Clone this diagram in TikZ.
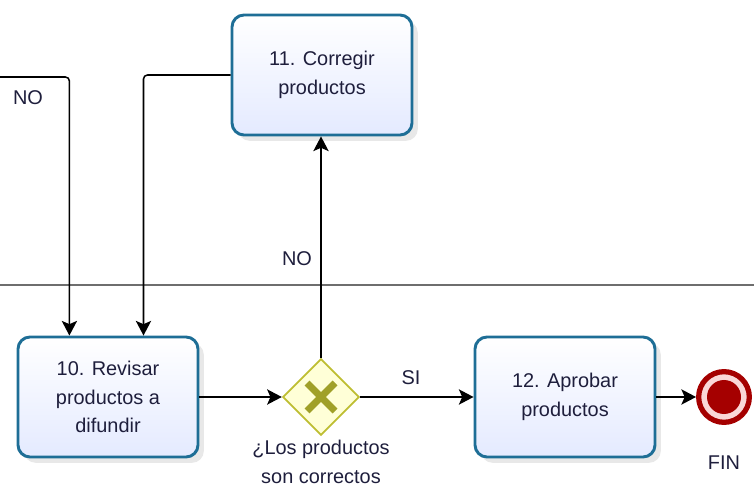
\documentclass[tikz,border=0pt]{standalone}
\usepackage{fontspec}
\setmainfont{Liberation Sans}
\usetikzlibrary{arrows.meta, calc, positioning, shapes.geometric, shadows}
\definecolor{mytaskborder}{RGB}{30, 110, 150}
\definecolor{mytaskfill}{RGB}{228, 234, 255}
\definecolor{mygatefill}{RGB}{255, 255, 215}
\definecolor{mygateborder}{RGB}{190, 190, 50}
\definecolor{mygatemark}{RGB}{160, 160, 40}
\definecolor{myendred}{RGB}{165, 0, 0}
\definecolor{myendring}{RGB}{250, 215, 215}
\definecolor{mytext}{RGB}{30, 30, 60}
\definecolor{mylane}{RGB}{110, 110, 110}

\begin{document}
\begin{tikzpicture}[x=0.03cm, y=-0.03cm, font=\fontsize{17}{24.5}\selectfont, text=mytext,
  task/.style={draw=mytaskborder, line width=2.5pt, rounded corners=0.36cm, minimum width=5.4cm,
    minimum height=3.6cm, align=center, top color=white, bottom color=mytaskfill,
    drop shadow={opacity=0.18, shadow xshift=5pt, shadow yshift=-5pt}},
  gate/.style={diamond, draw=mygateborder, line width=1.5pt, fill=mygatefill, minimum width=2.3cm,
    minimum height=2.3cm, inner sep=0pt},
  flow/.style={draw=black, line width=1.3pt, -{Stealth[length=0.44cm, width=0.46cm, inset=0.1cm]}}]
  \useasboundingbox (0,0) rectangle (754,487);
  % Lane
  \coordinate (laneL) at (0,285);
  \coordinate (laneR) at (754,285);
  \draw[mylane, line width=1.5pt] (laneL) -- (laneR);
  % Tasks
  \node[task] (corr) at (322,75) {11. Corregir\\productos};
  \node[task] (rev) at (108,397) {10. Revisar\\productos a\\difundir};
  \node[task] (apr) at (565,397) {12. Aprobar\\productos};
  % Gateway
  \node[gate] (gate) at (321,397) {};
  \draw[mygatemark, line width=6pt] ([shift={(-14,-14)}]gate.center) -- ([shift={(14,14)}]gate.center);
  \draw[mygatemark, line width=6pt] ([shift={(-14,14)}]gate.center) -- ([shift={(14,-14)}]gate.center);
  \node[align=center] (gatelbl) at (321,462) {¿Los productos\\son correctos};
  % End event
  \node[circle, draw=myendred, line width=4.5pt, fill=myendring, minimum size=1.52cm, inner sep=0pt] (fin) at (724,397) {};
  \node[circle, fill=myendred, minimum size=1.02cm, inner sep=0pt] (fincore) at (fin) {};
  \node (finlbl) at (724,463) {FIN};
  % Flows
  \coordinate (noin) at (0,77);
  \draw[flow, rounded corners=0.12cm] (noin) -| ($(rev.north west)!0.289!(rev.north east)$);
  \draw[flow, rounded corners=0.12cm] (corr.west) -| ($(rev.north west)!0.694!(rev.north east)$);
  \draw[flow] (gate.north) -- (gate.north |- corr.south);
  \draw[flow] (rev.east) -- (gate.west);
  \draw[flow] (gate.east) -- (apr.west);
  \draw[flow] (apr.east) -- (fin.west);
  % Labels
  \node (no1) at (28,98) {NO};
  \node (no2) at (297,259) {NO};
  \node (si) at (411,378) {SI};
\end{tikzpicture}
\end{document}
